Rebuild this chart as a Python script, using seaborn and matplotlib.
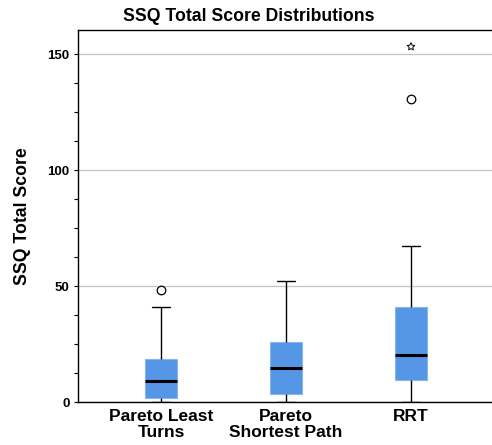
import numpy as np
import pandas as pd
import matplotlib
matplotlib.use("Agg")
import matplotlib.pyplot as plt
from matplotlib.ticker import MultipleLocator
import seaborn as sns

# Estimated SSQ total scores per planner
least_turns = [0, 0, 0.5, 1, 1.5, 2.0, 3.7, 4.5, 6, 7.5, 9.3, 11.2, 12, 13.5,
               15, 18.5, 22.4, 26.2, 30, 41.1, 48.6]
shortest_path = [0, 0, 0, 0, 3.7, 3.7, 7.5, 7.5, 11.2, 11.2, 14.9, 14.9, 18.7,
                 22.4, 22.4, 26.0, 29.9, 33.7, 37.4, 44.9, 52.4]
rrt = [0, 0, 3.7, 3.7, 7.5, 9.5, 11.2, 14.9, 15, 18.7, 20.5, 22.4, 26.2, 29.9,
       37.4, 40.9, 44.9, 52.4, 67.3, 130.9, 153.3]
groups = ["Pareto Least\nTurns", "Pareto\nShortest Path", "RRT"]

df = pd.DataFrame({
    "Planner": [groups[0]] * len(least_turns) + [groups[1]] * len(shortest_path) + [groups[2]] * len(rrt),
    "Score": least_turns + shortest_path + rrt,
})

sns.set_style("white")
plt.rcParams["font.family"] = ["Liberation Sans", "DejaVu Sans"]
plt.rcParams["text.color"] = "black"
plt.rcParams["axes.labelcolor"] = "black"
plt.rcParams["xtick.color"] = "black"
plt.rcParams["ytick.color"] = "black"

fig = plt.figure(figsize=(4.92, 4.45), dpi=100)
ax = fig.add_axes([0.1585, 0.096, 0.8415, 0.8366])

blue = "#5597E6"
sns.boxplot(data=df, x="Planner", y="Score", order=groups, color=blue,
            width=0.25, showfliers=False, whis=1.5, ax=ax, capwidths=0.15,
            boxprops=dict(facecolor=blue, edgecolor="#86B6EF", linewidth=0.8),
            medianprops=dict(color="black", linewidth=2.2),
            whiskerprops=dict(color="black", linewidth=1.0),
            capprops=dict(color="black", linewidth=1.0))

# SPSS style outliers (circle) and extremes (star)
for i, g in enumerate(groups):
    vals = np.array(df.loc[df["Planner"] == g, "Score"])
    q1, q3 = np.percentile(vals, [25, 75])
    iqr = q3 - q1
    out = vals[(vals > q3 + 1.5 * iqr) & (vals <= q3 + 3 * iqr)]
    ext = vals[vals > q3 + 3 * iqr]
    ax.scatter([i] * len(out), out, s=38, facecolors="white", edgecolors="black",
               linewidths=0.9, zorder=5)
    ax.scatter([i] * len(ext), ext, s=32, marker=(5, 1, 0), facecolors="none",
               edgecolors="black", linewidths=0.7, zorder=5)

ax.set_xlim(-0.664, 2.648)
ax.set_ylim(0, 160.5)
ax.yaxis.set_major_locator(MultipleLocator(50))
ax.yaxis.set_minor_locator(MultipleLocator(12.5))
ax.grid(axis="y", which="major", color="#c4c4c4", linewidth=0.9)
ax.set_axisbelow(True)
ax.tick_params(axis="y", which="both", left=True, length=3, width=0.8,
               color="black", labelcolor="black", labelsize=9.5, pad=3)
ax.tick_params(axis="x", bottom=False, labelcolor="black", pad=1)
for lab in ax.get_yticklabels():
    lab.set_fontweight("bold")
ax.set_xticks(range(len(groups)))
ax.set_xticklabels(groups, fontsize=12.5, fontweight="bold", linespacing=1.1)

for side in ["left", "bottom", "top"]:
    ax.spines[side].set_color("black")
    ax.spines[side].set_linewidth(1.0)
ax.spines["right"].set_visible(False)

ax.set_xlabel("")
ax.set_ylabel("SSQ Total Score", fontsize=12.7, fontweight="bold", color="black")
ax.yaxis.set_label_coords(-0.114, 0.5)
fig.text(0.506, 0.964, "SSQ Total Score Distributions", ha="center", va="center",
         fontsize=12.7, fontweight="bold", color="black")

fig.savefig("out.png", dpi=100)
